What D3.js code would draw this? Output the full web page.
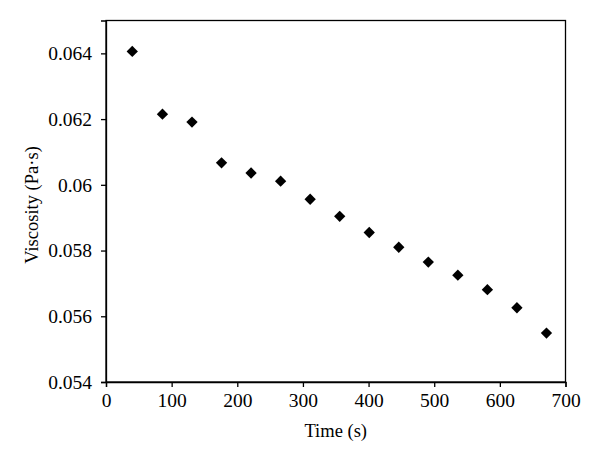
<!DOCTYPE html>
<html>
<head>
<meta charset="utf-8">
<script src="https://cdn.jsdelivr.net/npm/d3@7/dist/d3.min.js"></script>
<style>
  body { margin: 0; background: #fff; }
  svg text { font-family: "Liberation Serif", "DejaVu Serif", serif; fill: #000; }
</style>
</head>
<body>
<svg width="600" height="464"></svg>
<script>
// time (s) and viscosity (Pa·s)
var times = [40, 86, 131, 176, 221, 266, 311, 356, 401, 446, 491, 536, 581, 626, 671];
var viscosity = [0.06406, 0.06215, 0.06191, 0.06067, 0.06036, 0.06011, 0.05956, 0.05904,
                 0.05855, 0.05810, 0.05765, 0.05725, 0.05681, 0.05626, 0.05549];
var xTicks = [0, 100, 200, 300, 400, 500, 600, 700];
var yTicks = [0.054, 0.056, 0.058, 0.06, 0.062, 0.064];

var serif = "Liberation Serif, DejaVu Serif, serif";

var svg = d3.select("svg"),
    margin = {top: 20.5, right: 34.5, bottom: 82, left: 106},
    width = 600 - margin.left - margin.right,
    height = 464 - margin.top - margin.bottom;

var x = d3.scaleLinear().domain([0, 700]).range([0, width]);
var y = d3.scaleLinear().domain([0.054, 0.065]).range([height, 0]);

var g = svg.append("g")
    .attr("transform", "translate(" + margin.left + "," + margin.top + ")");

// frame
g.append("rect")
    .attr("width", width)
    .attr("height", height)
    .attr("fill", "none")
    .attr("stroke", "#000")
    .attr("stroke-width", 1.3);

var xAxis = g.append("g")
    .attr("transform", "translate(0," + height + ")")
    .call(d3.axisBottom(x).tickValues(xTicks).tickSize(5).tickPadding(6).tickFormat(d3.format("d")));

var yAxis = g.append("g")
    .call(d3.axisLeft(y).tickValues(yTicks).tickSize(5).tickPadding(9)
      .tickFormat(function(d) { return String(+d.toFixed(3)); }));

[xAxis, yAxis].forEach(function(a) {
  a.attr("font-family", serif).attr("font-size", 19.5);
  a.select(".domain").attr("stroke-width", 1.3);
  a.selectAll(".tick line").attr("stroke-width", 1.3);
});

// points
g.selectAll("path.pt")
  .data(times)
  .enter().append("path")
  .attr("class", "pt")
  .attr("d", d3.symbol().type(d3.symbolSquare).size(64))
  .attr("transform", function(d, i) {
    return "translate(" + x(d) + "," + y(viscosity[i]) + ") rotate(45)";
  })
  .attr("fill", "#000");

// axis titles
svg.append("text")
    .attr("x", margin.left + width / 2)
    .attr("y", 437)
    .attr("text-anchor", "middle")
    .attr("font-family", serif)
    .attr("font-size", 18.5)
    .text("Time (s)");

svg.append("text")
    .attr("transform", "translate(38,205) rotate(-90)")
    .attr("text-anchor", "middle")
    .attr("font-family", serif)
    .attr("font-size", 18.5)
    .text("Viscosity (Pa·s)");
</script>
</body>
</html>
